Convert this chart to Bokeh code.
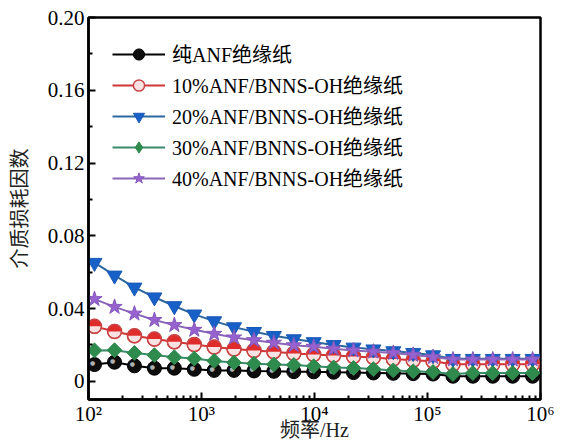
import numpy as np
from bokeh.plotting import figure
from bokeh.models import Range1d, FixedTicker, CustomJSTickFormatter, Legend, LegendItem
from bokeh.core.properties import value
from bokeh.embed import file_html
from bokeh.resources import INLINE

# ---- data ----
freq = [113, 170, 255, 383, 575, 863, 1295, 1940, 2915, 4370, 6560, 9840,
        14760, 22140, 33200, 49800, 74700, 112000, 168000, 252000, 378000, 567000, 851000]

pure_anf = [0.0092, 0.0105, 0.0085, 0.0072, 0.0072, 0.0066, 0.0060, 0.0060, 0.0057, 0.0055, 0.0053, 0.0052,
            0.0050, 0.0048, 0.0046, 0.0044, 0.0042, 0.0040, 0.0028, 0.0028, 0.0028, 0.0028, 0.0028]
bnns10 = [0.0302, 0.0274, 0.0250, 0.0232, 0.0217, 0.0202, 0.0188, 0.0177, 0.0169, 0.0162, 0.0153, 0.0147,
          0.0142, 0.0136, 0.0131, 0.0122, 0.0116, 0.0110, 0.0094, 0.0094, 0.0094, 0.0094, 0.0094]
bnns20 = [0.0652, 0.0582, 0.0516, 0.0462, 0.0414, 0.0368, 0.0331, 0.0298, 0.0272, 0.0250, 0.0232, 0.0216,
          0.0200, 0.0186, 0.0176, 0.0166, 0.0156, 0.0144, 0.0124, 0.0124, 0.0124, 0.0124, 0.0124]
bnns30 = [0.0170, 0.0171, 0.0156, 0.0144, 0.0132, 0.0125, 0.0112, 0.0103, 0.0097, 0.0093, 0.0090, 0.0083,
          0.0076, 0.0073, 0.0067, 0.0060, 0.0055, 0.0051, 0.0040, 0.0045, 0.0045, 0.0045, 0.0045]
bnns40 = [0.0452, 0.0409, 0.0372, 0.0337, 0.0309, 0.0283, 0.0261, 0.0241, 0.0226, 0.0212, 0.0198, 0.0190,
          0.0179, 0.0170, 0.0163, 0.0156, 0.0145, 0.0133, 0.0120, 0.0120, 0.0120, 0.0120, 0.0120]

labels = ["纯ANF绝缘纸", "10%ANF/BNNS-OH绝缘纸", "20%ANF/BNNS-OH绝缘纸",
          "30%ANF/BNNS-OH绝缘纸", "40%ANF/BNNS-OH绝缘纸"]

x_major = [1e2, 1e3, 1e4, 1e5, 1e6]
x_tick_labels = ["10²", "10³", "10⁴", "10⁵", "10⁶"]
y_major = [0.0, 0.04, 0.08, 0.12, 0.16, 0.20]
y_tick_labels = ["0", "0.04", "0.08", "0.12", "0.16", "0.20"]
y_minor = [0.02, 0.06, 0.10, 0.14, 0.18]

x_label = "频率/Hz"
y_label = "介质损耗因数"

SERIF = "'Liberation Serif', 'DejaVu Serif', 'Noto Sans CJK SC'"
CJK = "'Noto Sans CJK SC'"

p = figure(width=569, height=443, x_axis_type="log",
           x_range=Range1d(1e2, 1e6), y_range=Range1d(-0.01, 0.2),
           output_backend="svg", toolbar_location=None,
           min_border_left=86, min_border_right=29, min_border_top=17, min_border_bottom=44)
p.grid.visible = False
p.outline_line_color = "black"
p.outline_line_width = 2.5
p.background_fill_color = "white"
p.border_fill_color = "white"

x_minor = [m * d for d in x_major[:-1] for m in range(2, 10)]
xa = p.xaxis[0]
xa.ticker = FixedTicker(ticks=x_major, minor_ticks=x_minor)
xa.formatter = CustomJSTickFormatter(args=dict(vals=x_major, labs=x_tick_labels), code="""
let best = 0, bd = Infinity;
for (let i = 0; i < vals.length; i++) {
  const d = Math.abs(Math.log10(vals[i]) - Math.log10(tick));
  if (d < bd) { bd = d; best = i; }
}
return labs[best];
""")
ya = p.yaxis[0]
ya.ticker = FixedTicker(ticks=y_major, minor_ticks=y_minor)
ya.formatter = CustomJSTickFormatter(args=dict(vals=y_major, labs=y_tick_labels), code="""
let best = 0, bd = Infinity;
for (let i = 0; i < vals.length; i++) {
  const d = Math.abs(vals[i] - tick);
  if (d < bd) { bd = d; best = i; }
}
return labs[best];
""")
for ax in (xa, ya):
    ax.axis_line_width = 2.5
    ax.axis_line_color = "black"
    ax.major_tick_in = 7
    ax.major_tick_out = 0
    ax.minor_tick_in = 4
    ax.minor_tick_out = 0
    ax.major_tick_line_width = 2
    ax.minor_tick_line_width = 2
    ax.major_label_text_font = SERIF
    ax.major_label_text_font_size = "21px"
    ax.major_label_text_color = "black"
xa.major_label_standoff = 2
ya.major_label_standoff = 4

ya.axis_label = y_label
ya.axis_label_text_font = CJK
ya.axis_label_text_font_size = "20px"
ya.axis_label_text_font_style = "normal"
ya.axis_label_text_color = "#222222"
ya.axis_label_standoff = 12

xa.axis_label = x_label
xa.axis_label_text_font = SERIF
xa.axis_label_text_font_size = "20px"
xa.axis_label_text_font_style = "normal"
xa.axis_label_text_color = "#222222"
xa.axis_label_standoff = -10

items = []
ms = 14

# pure ANF (black spheres)
l0 = p.line(freq, pure_anf, line_color="black", line_width=2)
s0 = p.scatter(freq, pure_anf, marker="circle", size=ms, fill_color="#0d0d0d", line_color="#000000")
p.text(freq, pure_anf, text=["●"] * len(freq), x_offset=-2, y_offset=-2,
       text_font=value("DejaVu Sans"), text_font_size=value("6px"), text_color="#b0b0b0",
       text_align="center", text_baseline="middle")
items.append(LegendItem(label=labels[0], renderers=[l0, s0]))

# 10% (half red circles)
l1 = p.line(freq, bnns10, line_color="#d23535", line_width=2)
s1 = p.scatter(freq, bnns10, marker="circle", size=ms, fill_color="#fbe2e2", line_color="#c94545", line_width=1.5)
p.wedge(freq, bnns10, radius=ms / 2, radius_units="screen", start_angle=0, end_angle=np.pi,
        fill_color="#e02b2b", line_color=None)
p.scatter(freq, bnns10, marker="circle", size=ms, fill_color=None, line_color="#c94545", line_width=1.2)
items.append(LegendItem(label=labels[1], renderers=[l1, s1]))

# 20% (blue inverted triangles)
l2 = p.line(freq, bnns20, line_color="#2c679e", line_width=2)
s2 = p.scatter(freq, bnns20, marker="inverted_triangle", size=15, fill_color="#1660c8", line_color="#1a58b5")
items.append(LegendItem(label=labels[2], renderers=[l2, s2]))

# 30% (green diamonds)
l3 = p.line(freq, bnns30, line_color="#3a8a6c", line_width=2)
s3l = p.scatter(freq, bnns30, marker="diamond", size=13, fill_color="#2f8a4e", line_color="#2f8a4e")
p.scatter(freq, bnns30, marker="square", angle=np.pi / 4, size=10.5, fill_color="#2f8a4e", line_color="#2f8a4e")
items.append(LegendItem(label=labels[3], renderers=[l3, s3l]))

# 40% (purple stars)
l4 = p.line(freq, bnns40, line_color="#8a66b8", line_width=2)
s4 = p.scatter(freq, bnns40, marker="star", size=16, fill_color="#9762cf", line_color="#8457bd")
items.append(LegendItem(label=labels[4], renderers=[l4, s4]))

leg = Legend(items=items, location=(24, 207), padding=0, margin=0, spacing=2,
             glyph_width=53, glyph_height=28, label_standoff=7,
             label_text_font=SERIF, label_text_font_size="20px", label_text_color="black",
             border_line_color=None, background_fill_alpha=0)
p.add_layout(leg, "center")

open("out.html", "w").write(file_html(p, INLINE))
